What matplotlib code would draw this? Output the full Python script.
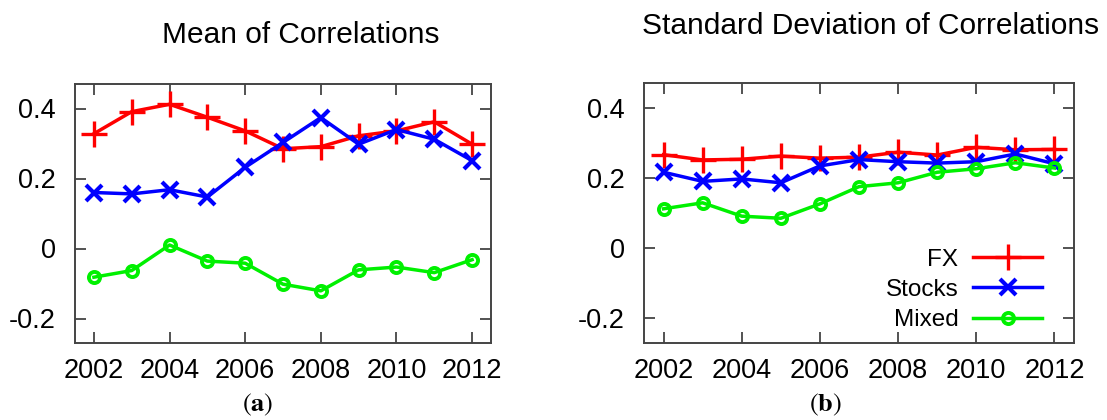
import matplotlib
matplotlib.use("Agg")
import matplotlib.pyplot as plt

years = [2002, 2003, 2004, 2005, 2006, 2007, 2008, 2009, 2010, 2011, 2012]

mean_fx = [0.328, 0.391, 0.412, 0.375, 0.336, 0.285, 0.291, 0.322, 0.336, 0.362, 0.298]
mean_stocks = [0.160, 0.156, 0.168, 0.147, 0.232, 0.303, 0.374, 0.298, 0.340, 0.312, 0.251]
mean_mixed = [-0.082, -0.063, 0.010, -0.036, -0.042, -0.102, -0.121, -0.061, -0.053, -0.069, -0.032]

std_fx = [0.266, 0.251, 0.253, 0.262, 0.256, 0.259, 0.273, 0.265, 0.287, 0.280, 0.281]
std_stocks = [0.216, 0.190, 0.197, 0.186, 0.234, 0.252, 0.246, 0.242, 0.246, 0.268, 0.240]
std_mixed = [0.112, 0.129, 0.091, 0.085, 0.126, 0.175, 0.186, 0.216, 0.226, 0.243, 0.228]

series_labels = ["FX", "Stocks", "Mixed"]
xticks = [2002, 2004, 2006, 2008, 2010, 2012]
yticks = [-0.2, 0, 0.2, 0.4]
ytick_labels = ["-0.2", "0", "0.2", "0.4"]

plt.rcParams['font.family'] = ['Liberation Sans', 'DejaVu Sans']
plt.rcParams['mathtext.fontset'] = 'stix'

W, H = 1107, 420
fig = plt.figure(figsize=(W / 100, H / 100), dpi=100)

frame_col = '#444444'

def px_axes(x0, x1, ytop, ybot):
    return fig.add_axes([x0 / W, (H - ybot) / H, (x1 - x0) / W, (ybot - ytop) / H])

ax1 = px_axes(75, 491, 84, 343)
ax2 = px_axes(644, 1074, 83, 343)

styles = [
    dict(color='#ff0000', marker='+', ms=19, mew=2.4),
    dict(color='#0000ff', marker='x', ms=12, mew=3.0),
    dict(color='#00f000', marker='o', ms=8, mew=2.8, mfc='none'),
]

for ax, data in [(ax1, [mean_fx, mean_stocks, mean_mixed]),
                 (ax2, [std_fx, std_stocks, std_mixed])]:
    for vals, st, lab in zip(data, styles, series_labels):
        ax.plot(years, vals, lw=2.5, label=lab, **st)
    ax.set_xlim(2001.5, 2012.5)
    ax.set_ylim(-0.27, 0.47)
    ax.set_xticks(xticks)
    ax.set_xticklabels([str(t) for t in xticks])
    ax.set_yticks(yticks)
    ax.set_yticklabels(ytick_labels)
    ax.tick_params(direction='in', top=True, right=True, length=8, width=1.3,
                   color=frame_col, labelsize=19.5)
    ax.tick_params(axis='x', pad=11)
    ax.tick_params(axis='y', pad=14)
    for sp in ax.spines.values():
        sp.set_color(frame_col)
        sp.set_linewidth(1.4)

leg = ax2.legend(loc='lower right', bbox_to_anchor=((1052 - 644) / 430, (343 - 341) / 260),
                 frameon=False, fontsize=17.5, markerfirst=False, handlelength=2.85,
                 handletextpad=0.6, labelspacing=0.34, borderaxespad=0.0)
for t in leg.get_texts():
    t.set_ha('right')

fig.text(301 / W, 1 - 43 / H, "Mean of Correlations", ha='center', va='baseline', fontsize=21.5)
fig.text(871 / W, 1 - 34 / H, "Standard Deviation of Correlations", ha='center', va='baseline', fontsize=21.5)

fig.text(258 / W, 1 - 411 / H, r"($\mathbf{a}$)", ha='center', va='baseline', fontsize=19,
         family=['STIXGeneral', 'DejaVu Serif'])
fig.text(825 / W, 1 - 411 / H, r"($\mathbf{b}$)", ha='center', va='baseline', fontsize=19,
         family=['STIXGeneral', 'DejaVu Serif'])

fig.savefig("out.png", dpi=100)
